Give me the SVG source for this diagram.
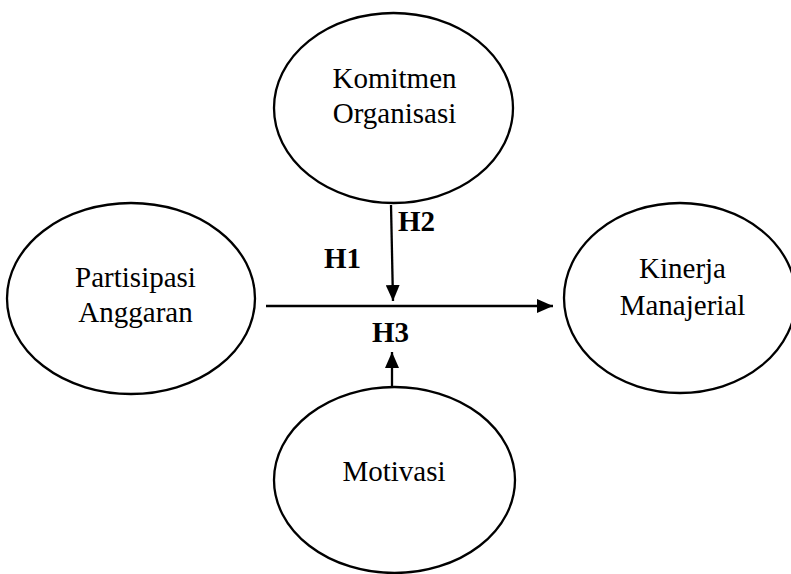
<svg xmlns="http://www.w3.org/2000/svg" width="791" height="574" viewBox="0 0 791 574">
<style>
.node ellipse{fill:#fff;stroke:#000;stroke-width:2.3}
.lbl{font-family:"Liberation Serif","Times New Roman",serif;font-size:29px;fill:#000;text-anchor:middle}
.h{font-family:"Liberation Serif","Times New Roman",serif;font-size:29px;font-weight:bold;fill:#000}
.conn line{stroke:#000;stroke-width:2.3}
</style>
<defs>
<marker id="ah" viewBox="0 0 16 14" refX="16" refY="7" markerWidth="16" markerHeight="14" markerUnits="userSpaceOnUse" orient="auto">
<path d="M0,0 L16,7 L0,14 Z" fill="#000"/>
</marker>
</defs>
<rect width="791" height="574" fill="#fff"/>
<g id="komitmen" class="node">
<ellipse cx="393.5" cy="108" rx="119.5" ry="95"/>
<text class="lbl" x="394.5" y="88">Komitmen</text>
<text class="lbl" x="394.5" y="123">Organisasi</text>
</g>
<g id="partisipasi" class="node">
<ellipse cx="131" cy="298.5" rx="124" ry="95.5"/>
<text class="lbl" x="135.5" y="287">Partisipasi</text>
<text class="lbl" x="135.5" y="322">Anggaran</text>
</g>
<g id="kinerja" class="node">
<ellipse cx="680" cy="298" rx="116" ry="95"/>
<text class="lbl" x="682.5" y="278">Kinerja</text>
<text class="lbl" x="682.5" y="315">Manajerial</text>
</g>
<g id="motivasi" class="node">
<ellipse cx="394.5" cy="480" rx="120.5" ry="93"/>
<text class="lbl" x="394" y="481">Motivasi</text>
</g>
<g id="connectors" class="conn">
<line x1="266" y1="306" x2="553" y2="306" marker-end="url(#ah)"/>
<line x1="391" y1="205" x2="393" y2="301" marker-end="url(#ah)"/>
<line x1="392" y1="387" x2="392" y2="352" marker-end="url(#ah)"/>
</g>
<g id="labels">
<text class="h" x="398" y="231">H2</text>
<text class="h" x="324" y="268">H1</text>
<text class="h" x="372" y="342">H3</text>
</g>
</svg>
